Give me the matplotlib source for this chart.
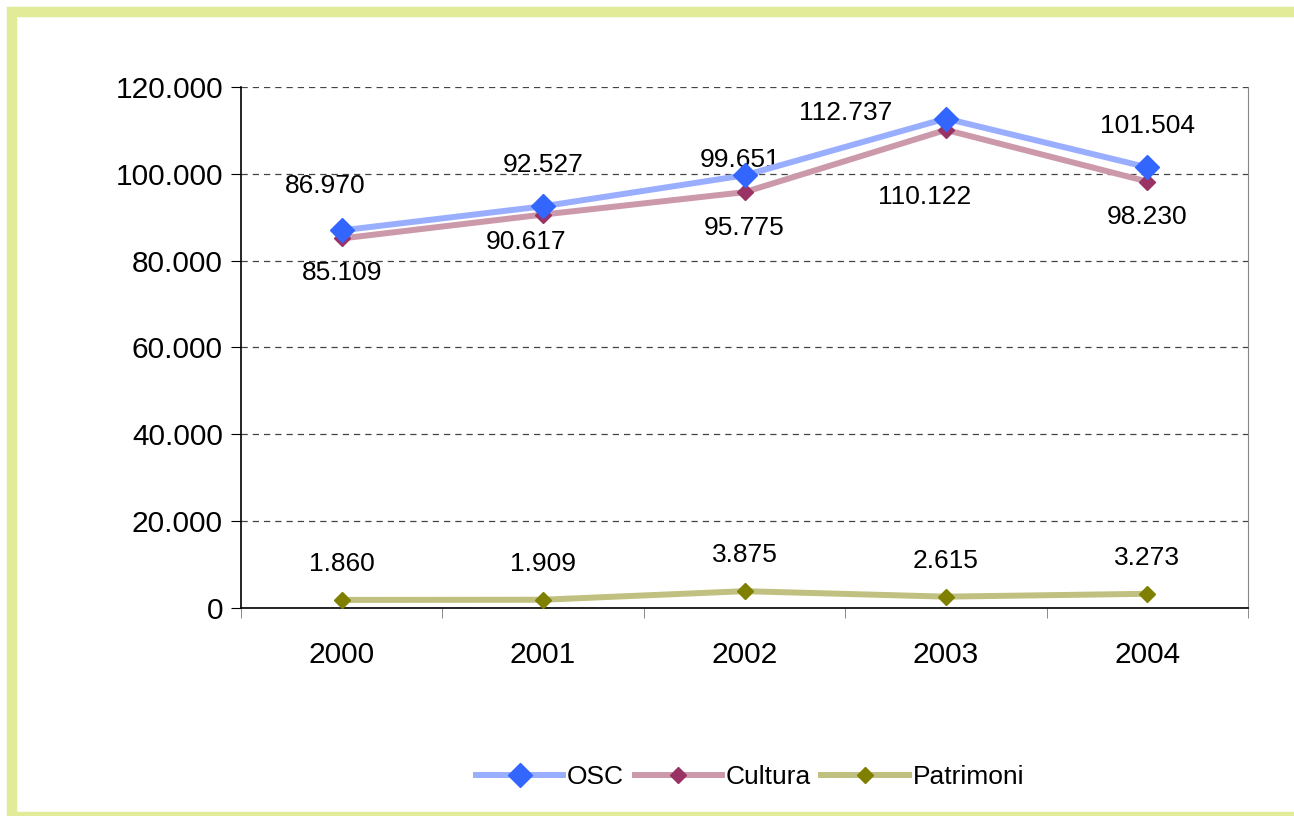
import matplotlib
matplotlib.use('Agg')
import matplotlib.pyplot as plt
from matplotlib.patches import Rectangle

years = ["2000", "2001", "2002", "2003", "2004"]
osc = [86970, 92527, 99651, 112737, 101504]
cultura = [85109, 90617, 95775, 110122, 98230]
patrimoni = [1860, 1909, 3875, 2615, 3273]
yticks = [0, 20000, 40000, 60000, 80000, 100000, 120000]
ytick_labels = ["0", "20.000", "40.000", "60.000", "80.000", "100.000", "120.000"]


def fmt(v):
    return "{:,}".format(v).replace(",", ".")


plt.rcParams['font.family'] = ['Liberation Sans', 'DejaVu Sans']

fig = plt.figure(figsize=(12.94, 8.16), dpi=100)
# light green frame around the chart
fig.patches.append(Rectangle((12 / 1294, -1 / 816), 1.1, (816 - 12 + 1) / 816,
                             transform=fig.transFigure, fill=False,
                             edgecolor='#e2eb98', linewidth=7.5, zorder=0))
ax = fig.add_axes([241 / 1294, 1 - 608 / 816, (1248 - 241) / 1294, (608 - 87) / 816])

x = list(range(len(years)))
ax.plot(x, osc, color='#9aaeff', lw=4.3, marker='D', ms=12,
        mfc='#3366ff', mec='#3366ff', label='OSC', zorder=4)
ax.plot(x, cultura, color='#cc99aa', lw=4.3, marker='D', ms=8.5,
        mfc='#993366', mec='#993366', label='Cultura', zorder=3)
ax.plot(x, patrimoni, color='#c0c080', lw=4.3, marker='D', ms=8.5,
        mfc='#808000', mec='#808000', label='Patrimoni', zorder=3)

lab = dict(fontsize=19, ha='center', va='center', textcoords='offset points')
osc_off = [(-12, 32), (0, 30), (-3, 11), (-72, 4), (0, 30)]
cul_off = [(0, -25), (-12, -20), (0, -26), (-15, -48), (0, -25.5)]
for i in x:
    ax.annotate(fmt(osc[i]), (i, osc[i]), xytext=osc_off[i], **lab)
    ax.annotate(fmt(cultura[i]), (i, cultura[i]), xytext=cul_off[i], **lab)
    ax.annotate(fmt(patrimoni[i]), (i, patrimoni[i]), xytext=(0, 26), **lab)

ax.set_xlim(-0.5, 4.5)
ax.set_ylim(0, 120000)
ax.set_yticks(yticks)
ax.set_yticklabels(ytick_labels, fontsize=21.5)
ax.set_xticks(x)
ax.set_xticklabels(years, fontsize=21.5)
ax.set_xticks([i - 0.5 for i in range(len(years) + 1)], minor=True)
ax.tick_params(axis='x', which='major', length=0, pad=24)
ax.tick_params(axis='x', which='minor', length=7, color='#777777', direction='out')
ax.tick_params(axis='y', length=7, direction='out', pad=6)

ax.yaxis.grid(True, linestyle=(0, (5, 4)), color='#444444', lw=0.9)
ax.set_axisbelow(True)
ax.spines['top'].set_visible(False)
ax.spines['right'].set_color('#888888')
ax.spines['left'].set_linewidth(1.2)
ax.spines['bottom'].set_linewidth(1.2)

leg = ax.legend(loc='center', bbox_to_anchor=(750 / 1294, 1 - 777 / 816),
                bbox_transform=fig.transFigure, ncol=3, frameon=False,
                fontsize=19, handlelength=3.3, columnspacing=0.4,
                handletextpad=0.15)

fig.savefig('out.png', dpi=100)
